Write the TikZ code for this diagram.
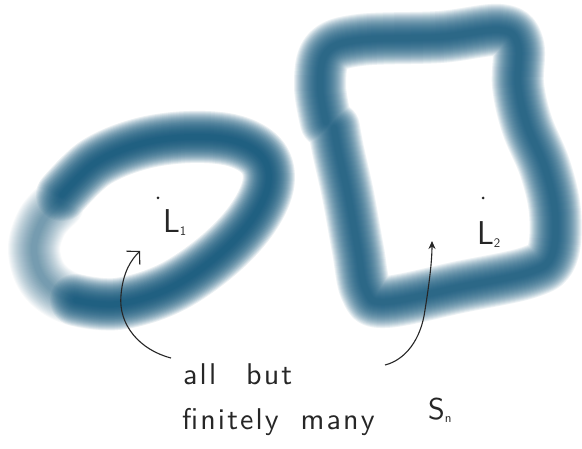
\documentclass[tikz,border=0pt]{standalone}
\usepackage{fontspec}
\newfontfamily\handfont{lmsans10-regular.otf}[LetterSpace=7]
\usepackage{tikz}
\usetikzlibrary{arrows.meta}
\definecolor{loopblue}{RGB}{15, 85, 122}
\definecolor{inkgray}{RGB}{38, 38, 38}
\tikzset{
  ringstroke/.style={draw=loopblue, line cap=round, line join=round},
  handtext/.style={font=\handfont\fontsize{30}{32}\selectfont, text=inkgray, inner sep=0pt, anchor=base west},
  setlabel/.style={font=\sffamily\fontsize{33}{35}\selectfont, text=inkgray, inner sep=0pt, anchor=base west},
  pointdot/.style={circle, fill=inkgray, inner sep=0pt, minimum size=3pt},
  inkarrow/.style={line width=1.1pt, inkgray},
  ringone/.style={insert path={plot[smooth, tension=0.6] coordinates {(62,195) (95,163) (140,144) (190,137) (235,141) (263,158) (268,186) (250,222) (215,258) (168,289) (117,304) (72,299) (44,280) (34,250) (42,222) (58,204)}}},
  ringonemain/.style={insert path={plot[smooth, tension=0.6] coordinates {(62,195) (95,163) (140,144) (190,137) (235,141) (263,158) (268,186) (250,222) (215,258) (168,289) (117,304) (76,300)}}},
  ringtwo/.style={insert path={plot[smooth, tension=0.6] coordinates {(326,122) (320,85) (327,52) (360,40) (440,37) (500,30) (518,45) (518,85) (527,125) (545,168) (555,212) (552,255) (530,272) (460,287) (385,302) (366,290) (358,250) (348,195) (338,150) (334,128)}}},
}
\newcommand{\subtag}[1]{\raisebox{-3pt}{\fontsize{13}{13}\selectfont #1}}

\begin{document}
\begin{tikzpicture}[x=1pt, y=-1pt]
  \useasboundingbox[fill=white] (0,0) rectangle (582,449);
  % blurred loops, built up from wide faint strokes
  \foreach \w in {6,8,...,52} \draw[ringstroke, line width=\w pt, draw opacity=0.03, ringone];
  \foreach \w in {6,8,...,52} \draw[ringstroke, line width=\w pt, draw opacity=0.06, ringonemain];
  \foreach \w in {6,8,...,52} \draw[ringstroke, line width=\w pt, draw opacity=0.08, ringtwo];
  % labels
  \node[pointdot] (dotone) at (158,198) {};
  \node[setlabel] (Lone) at (163,233) {L\subtag{1}};
  \node[pointdot] (dottwo) at (483,198) {};
  \node[setlabel] (Ltwo) at (477,245) {L\subtag{2}};
  \node[handtext] (allbut) at (183,385) {all\hspace{30pt}but};
  \node[handtext] (finmany) at (182,430) {finitely\hspace{22pt}many};
  \node[handtext] (Sn) at (428,420) {S\subtag{n}};
  \coordinate (tipone) at (140,251);
  \coordinate (tiptwo) at (432,241);
  \draw[inkarrow, -{Straight Barb[length=9pt, width=19pt]}] ([shift={(-12,-27)}]allbut.base west) .. controls (140,350) and (118,325) .. (121,295) .. controls (123,272) and (131,260) .. (tipone);
  \draw[inkarrow, -{Stealth[length=8pt, width=7pt]}] ([shift={(-43,-55)}]Sn.base west) .. controls (405,360) and (421,340) .. (425,310) .. controls (429,285) and (432,262) .. (tiptwo);
\end{tikzpicture}
\end{document}
